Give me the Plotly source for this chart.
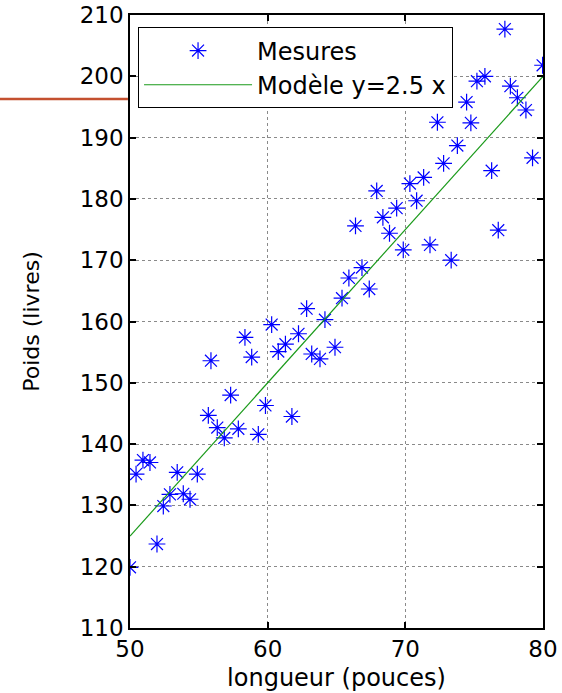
import plotly.graph_objects as go

# Data
longueur = [50.0, 51.96, 50.44, 50.94, 51.45, 52.42, 52.90, 53.87, 54.36, 53.43,
            54.89, 55.69, 56.34, 57.87, 56.85, 59.32, 57.31, 59.84, 61.76, 55.88,
            58.84, 58.35, 60.29, 60.77, 61.29, 62.24, 62.83, 63.20, 63.80, 64.89,
            64.16, 65.40, 65.90, 66.85, 67.38, 66.38, 68.37, 68.85, 69.37, 69.85,
            70.82, 67.92, 70.33, 71.33, 71.79, 73.33, 72.78, 73.78, 72.33, 74.76,
            74.45, 75.20, 75.78, 77.23, 77.63, 78.14, 78.76, 79.97, 79.24, 76.27,
            76.75]
poids = [119.9, 123.7, 135.1, 137.4, 137.0, 129.9, 131.8, 131.9, 131.0, 135.4,
         135.1, 144.7, 142.7, 142.5, 141.0, 141.6, 148.0, 146.3, 144.5, 153.6,
         154.2, 157.4, 159.5, 155.1, 156.3, 158.0, 162.1, 154.7, 153.9, 155.8,
         160.3, 163.8, 167.1, 168.8, 165.3, 175.6, 177.0, 174.4, 178.5, 171.7,
         179.7, 181.3, 182.5, 183.5, 172.5, 170.0, 185.8, 188.7, 192.5, 192.4,
         195.8, 199.2, 200.0, 207.7, 198.4, 196.5, 194.5, 201.8, 186.7, 184.6,
         174.9]
modele_x = [50, 80]
pente = 2.5
modele_y = [pente * v for v in modele_x]

x_ticks = [50, 60, 70, 80]
y_ticks = list(range(110, 211, 10))

FONT = "DejaVu Sans, sans-serif"

fig = go.Figure()
fig.add_trace(go.Scatter(
    x=longueur, y=poids, mode="markers", name="Mesures",
    marker=dict(symbol="asterisk-open", size=14, color="blue",
                line=dict(color="blue", width=1.2)),
))
fig.add_trace(go.Scatter(
    x=modele_x, y=modele_y, mode="lines", name="Modèle y=2.5 x",
    line=dict(color="#1a9a1a", width=1.2),
))

axis_common = dict(
    showline=True, linecolor="black", linewidth=1.5, mirror="ticks",
    ticks="inside", ticklen=6, tickcolor="black", tickwidth=2,
    showgrid=True, gridcolor="#8a8a8a", griddash="dot", gridwidth=1,
    zeroline=False, automargin=False,
    tickfont=dict(family=FONT, size=23, color="black"),
)

fig.update_xaxes(range=[50, 80], tickvals=x_ticks,
                 title=dict(text="longueur (pouces)", font=dict(family=FONT, size=24, color="black"), standoff=8),
                 **axis_common)
fig.update_yaxes(range=[110, 210], tickvals=y_ticks,
                 title=dict(text="Poids (livres)", font=dict(family=FONT, size=22, color="black"), standoff=34),
                 **axis_common)

fig.add_shape(type="line", xref="paper", yref="paper",
              x0=-0.32, x1=-0.005, y0=(628 - 99) / 613, y1=(628 - 99) / 613,
              line=dict(color="#C4502F", width=2.5))

fig.update_layout(
    width=562, height=693,
    margin=dict(l=130, r=19, t=15, b=65),
    paper_bgcolor="white", plot_bgcolor="white",
    showlegend=True,
    legend=dict(x=0.019, y=0.98, xanchor="left", yanchor="top",
                bgcolor="white", bordercolor="black", borderwidth=1.2,
                font=dict(family=FONT, size=24, color="black"),
                itemwidth=108, tracegroupgap=0),
)

fig.write_html("out.html")
